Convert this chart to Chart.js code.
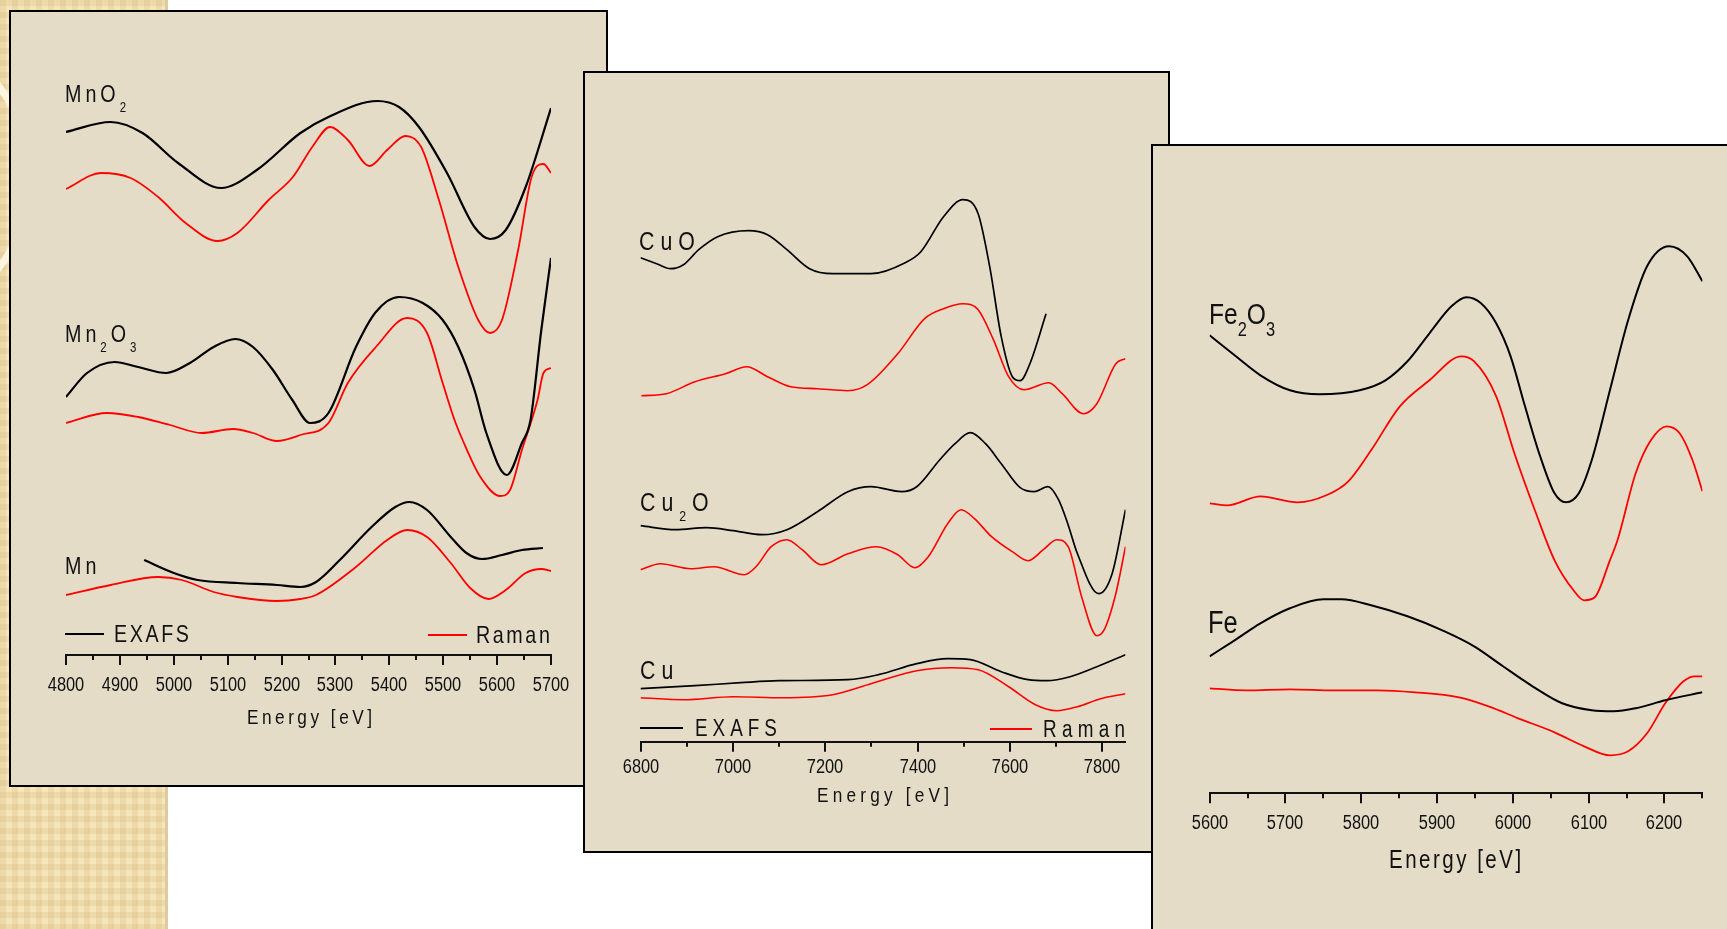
<!DOCTYPE html>
<html>
<head>
<meta charset="utf-8">
<script src="https://cdn.jsdelivr.net/npm/chart.js@4/dist/chart.umd.min.js"></script>
<style>
html, body { margin: 0; padding: 0; }
body { width: 1727px; height: 929px; overflow: hidden; background: #fff; position: relative;
  font-family: "Liberation Sans", Arial, sans-serif; color: #111; }
#deco { position: absolute; left: 0; top: 0; width: 165px; height: 929px;
  background-color: #f6e5b9;
  background-image: linear-gradient(90deg, rgba(205,175,115,.22) 50%, transparent 50%),
                    linear-gradient(rgba(205,175,115,.22) 50%, transparent 50%);
  background-size: 12px 12px; border-right: 3px solid #dccb9f; overflow: hidden; }
#deco .swirl { position: absolute; left: -300px; top: 20px; width: 320px; height: 300px;
  border-radius: 50%; border: 7px solid #fbf4de; }
.panel { position: absolute; box-sizing: border-box; border: 2px solid #000; background: #e4dcc7; overflow: hidden; }
.panel canvas { position: absolute; left: 0; top: 0; }
/* the original uses a narrow sans; squeeze Liberation Sans to Arial Narrow widths */
.lbl { position: absolute; line-height: 1; white-space: nowrap; transform: scaleX(0.82); transform-origin: 0 0; }
.key { position: absolute; height: 2px; }
</style>
</head>
<body>
<div id="deco"><div class="swirl"></div></div>

<script>
// ---- data: energy [eV], intensity (a.u., curves stacked with offsets) ----

// Mn panel
const mno2Exafs = [[4800,52.3],[4883,53.3],[4942,52.2],[5008,49.2],[5088,46.7],[5154,48.5],[5235,52.2],[5287,53.8],[5378,55.4],[5418,54.8],[5455,52.8],[5507,48.2],[5558,42.8],[5587,41.6],[5616,42.5],[5653,46.8],[5700,54.7]];
const mno2Raman = [[4800,46.6],[4865,48.2],[4920,47.7],[4971,45.8],[5022,43.2],[5081,41.4],[5118,42.2],[5176,45.5],[5221,47.8],[5257,50.8],[5290,52.8],[5323,51.5],[5363,48.9],[5396,50.5],[5430,51.9],[5459,50.8],[5492,45.5],[5528,38.8],[5565,33.5],[5587,32.2],[5609,33.5],[5639,40.5],[5664,47.8],[5686,49.1],[5700,48.2]];
const mn2o3Exafs = [[4800,25.8],[4839,28.2],[4890,29.3],[4934,28.8],[4986,28.2],[5030,29.2],[5074,30.8],[5114,31.6],[5147,30.8],[5184,28.5],[5220,25.5],[5253,23.2],[5287,24.2],[5338,30.8],[5375,34.3],[5418,35.8],[5462,35.2],[5499,33.5],[5528,30.8],[5558,26.5],[5580,22.2],[5618,18.0],[5646,21.2],[5662,23.5],[5682,32.5],[5700,39.7]];
const mn2o3Raman = [[4800,23.2],[4876,24.2],[4934,23.8],[4993,23.0],[5052,22.2],[5110,22.6],[5147,22.2],[5191,21.4],[5235,22.0],[5287,23.2],[5323,27.2],[5375,30.8],[5433,33.7],[5470,32.2],[5499,27.2],[5521,23.5],[5536,21.5],[5569,17.8],[5606,15.9],[5624,16.5],[5646,20.5],[5675,25.5],[5686,28.2],[5700,28.7]];
const mnExafs = [[4945,9.5],[5000,8.2],[5044,7.5],[5118,7.2],[5191,7.0],[5235,6.8],[5264,7.3],[5308,9.5],[5367,12.8],[5411,14.8],[5437,15.3],[5470,14.5],[5514,11.8],[5543,10.2],[5572,9.6],[5609,10.0],[5646,10.5],[5685,10.7]];
const mnRaman = [[4800,6.0],[4883,7.0],[4971,7.8],[5015,7.5],[5074,6.3],[5118,5.8],[5191,5.4],[5235,5.6],[5264,6.0],[5338,8.8],[5396,11.5],[5433,12.5],[5470,11.8],[5514,9.2],[5550,6.7],[5584,5.6],[5616,6.5],[5653,8.2],[5682,8.6],[5700,8.4]];

// Cu panel
const cuoExafs = [[6800,48.4],[6835,47.8],[6865,47.3],[6893,47.7],[6926,49.2],[6967,50.5],[7034,51.1],[7075,50.7],[7117,49.2],[7166,47.3],[7216,46.8],[7299,46.8],[7373,47.9],[7407,49.0],[7456,52.5],[7498,54.2],[7531,52.8],[7556,47.5],[7581,40.5],[7605,36.5],[7622,36.1],[7643,37.8],[7678,42.8]];
const cuoRaman = [[6802,34.6],[6856,34.8],[6918,36.0],[6984,36.8],[7030,37.5],[7075,36.5],[7125,35.5],[7183,35.3],[7249,35.1],[7291,35.7],[7357,38.8],[7415,42.3],[7456,43.3],[7498,43.8],[7531,43.2],[7564,40.2],[7597,36.5],[7630,35.2],[7684,35.9],[7713,34.8],[7759,32.8],[7788,33.8],[7829,37.8],[7850,38.3]];
const cu2oExafs = [[6800,21.6],[6876,21.2],[6943,21.4],[7001,21.1],[7063,20.7],[7117,21.2],[7183,23.0],[7249,25.0],[7299,25.5],[7365,25.0],[7398,25.5],[7448,28.2],[7481,29.8],[7514,30.9],[7547,29.8],[7581,27.8],[7622,25.4],[7652,25.0],[7682,25.5],[7705,24.2],[7725,21.8],[7746,18.8],[7792,14.8],[7821,16.8],[7850,23.2]];
const cu2oRaman = [[6800,17.2],[6843,17.8],[6909,17.3],[6959,17.5],[7025,16.7],[7050,17.5],[7083,19.5],[7117,20.2],[7150,19.2],[7191,17.7],[7249,18.8],[7311,19.5],[7357,18.7],[7394,17.4],[7423,18.5],[7465,21.8],[7494,23.2],[7523,22.3],[7560,20.5],[7605,19.0],[7639,18.1],[7672,19.2],[7701,20.2],[7726,19.5],[7755,14.5],[7788,10.6],[7804,11.2],[7829,14.8],[7850,19.5]];
const cuExafs = [[6800,5.3],[6918,5.6],[7017,5.9],[7100,6.1],[7249,6.2],[7315,6.7],[7398,7.8],[7465,8.3],[7514,8.2],[7581,7.0],[7639,6.2],[7680,6.1],[7730,6.5],[7788,7.5],[7850,8.7]];
const cuRaman = [[6800,4.4],[6893,4.2],[7001,4.5],[7108,4.4],[7216,4.7],[7299,5.8],[7398,7.1],[7473,7.4],[7531,7.2],[7597,5.5],[7655,3.7],[7701,3.1],[7746,3.5],[7796,4.3],[7850,4.8]];

// Fe panel
const fe2o3Exafs = [[5600,45.8],[5633,43.8],[5667,41.8],[5706,40.3],[5745,39.9],[5798,40.3],[5832,41.3],[5861,43.2],[5890,46.0],[5919,48.7],[5939,49.6],[5958,49.0],[5978,47.0],[5997,43.7],[6016,38.7],[6036,33.7],[6055,30.0],[6070,29.1],[6087,30.0],[6104,33.3],[6128,40.3],[6152,47.3],[6177,52.7],[6206,54.7],[6230,53.7],[6250,51.2]];
const fe2o3Raman = [[5600,29.0],[5623,28.8],[5667,29.7],[5716,29.1],[5754,29.8],[5783,31.2],[5813,34.3],[5851,38.7],[5890,41.3],[5932,43.7],[5949,43.2],[5978,39.7],[6002,34.0],[6031,27.9],[6055,23.3],[6080,20.3],[6094,19.3],[6108,19.6],[6128,23.3],[6138,25.3],[6162,32.0],[6182,35.3],[6203,36.7],[6220,36.0],[6237,33.3],[6250,30.2]];
const feExafs = [[5600,13.7],[5633,15.3],[5667,17.0],[5706,18.5],[5750,19.4],[5774,19.4],[5813,18.8],[5861,17.7],[5910,16.2],[5949,14.7],[5987,12.7],[6026,10.7],[6065,9.0],[6104,8.3],[6133,8.2],[6162,8.5],[6201,9.3],[6250,10.1]];
const feRaman = [[5600,10.5],[5648,10.3],[5706,10.4],[5764,10.3],[5822,10.3],[5871,10.1],[5929,9.6],[5968,8.7],[6007,7.5],[6055,6.1],[6094,4.7],[6128,3.8],[6152,4.2],[6177,6.0],[6201,9.0],[6225,11.2],[6240,11.7],[6250,11.7]];

const NARROW = 0.82;

// tick marks (long on labelled ticks) and narrow tick labels under the x axis
const energyAxis = {
  id: 'energyAxis',
  afterDraw(chart, args, opts) {
    const sc = chart.scales.x, ctx = chart.ctx, y = chart.chartArea.bottom;
    ctx.save();
    ctx.strokeStyle = '#111';
    ctx.fillStyle = '#111';
    ctx.lineWidth = 2;
    ctx.font = '20px "Liberation Sans", Arial, sans-serif';
    ctx.textAlign = 'center';
    ctx.textBaseline = 'middle';
    sc.ticks.forEach(t => {
      const x = Math.round(sc.getPixelForValue(t.value));
      const major = t.value % opts.major === 0;
      ctx.beginPath(); ctx.moveTo(x, y); ctx.lineTo(x, y + (major ? 10 : 5)); ctx.stroke();
      if (major) {
        ctx.save();
        ctx.translate(x, y + opts.labelDy);
        ctx.scale(NARROW, 1);
        ctx.fillText(String(t.value), 0, 0);
        ctx.restore();
      }
    });
    ctx.restore();
  }
};

function line(points, color, width) {
  return {
    data: points.map(p => ({ x: p[0], y: p[1] })),
    borderColor: color, borderWidth: width, pointRadius: 0,
    cubicInterpolationMode: 'monotone', fill: false
  };
}

function makePanel(p) {
  const el = document.createElement('div');
  el.className = 'panel';
  Object.assign(el.style, { left: p.left + 'px', top: p.top + 'px', width: p.w + 'px', height: p.h + 'px', zIndex: p.z });
  document.body.appendChild(el);
  const cv = document.createElement('canvas');
  cv.width = p.w - 4; cv.height = p.h - 4;
  el.appendChild(cv);
  new Chart(cv, {
    type: 'line',
    data: { datasets: p.series },
    plugins: [energyAxis],
    options: {
      responsive: false, animation: false, devicePixelRatio: 1,
      layout: { autoPadding: false, padding: p.pad },
      plugins: { legend: { display: false }, tooltip: { enabled: false },
        energyAxis: { major: p.major, labelDy: p.labelDy } },
      scales: {
        x: {
          type: 'linear', min: p.xmin, max: p.xmax,
          grid: { display: false, drawTicks: false },
          border: { display: true, color: '#111', width: 2 },
          afterFit: s => { s.height = 60; },
          ticks: { display: false, stepSize: p.minor, includeBounds: false, autoSkip: false }
        },
        y: { display: false, min: 0, max: 60 }
      }
    }
  });
  // text and legend keys, given in page coordinates (cap top of text)
  const ox = p.left + 2, oy = p.top + 2;
  (p.texts || []).forEach(t => {
    const d = document.createElement('div');
    d.className = 'lbl';
    d.innerHTML = t.html;
    Object.assign(d.style, { left: (t.x - ox) + 'px', top: (t.y - 0.13 * t.size - oy) + 'px',
      fontSize: t.size + 'px', letterSpacing: ((t.ls || 0) / NARROW) + 'px' });
    el.appendChild(d);
  });
  (p.keys || []).forEach(k => {
    const d = document.createElement('div');
    d.className = 'key';
    Object.assign(d.style, { left: (k.x - ox) + 'px', top: (k.y - 1 - oy) + 'px', width: k.w + 'px', background: k.color });
    el.appendChild(d);
  });
}

const sub = (n, size, drop) => `<span style="font-size:${size}px;vertical-align:-${drop}px">${n}</span>`;

makePanel({
  left: 9, top: 10, w: 599, h: 777, z: 1,
  xmin: 4800, xmax: 5700, minor: 50, major: 100, labelDy: 30,
  pad: { left: 55, right: 55, top: 43, bottom: 70 },
  series: [
    line(mno2Exafs, '#000', 2.2), line(mno2Raman, '#ff0000', 1.8),
    line(mn2o3Exafs, '#000', 2.2), line(mn2o3Raman, '#ff0000', 1.8),
    line(mnExafs, '#000', 2.2), line(mnRaman, '#ff0000', 1.8)
  ],
  texts: [
    { html: 'MnO' + sub(2, 14, 10), x: 65, y: 85, size: 24, ls: 4 },
    { html: 'Mn' + sub(2, 14, 10) + 'O' + sub(3, 14, 10), x: 65, y: 325, size: 24, ls: 4 },
    { html: 'Mn', x: 65, y: 557, size: 24, ls: 4 },
    { html: 'EXAFS', x: 114, y: 625, size: 24, ls: 2.6 },
    { html: 'Raman', x: 476, y: 626.5, size: 24, ls: 2.6 },
    { html: 'Energy [eV]', x: 247, y: 709, size: 21, ls: 3.5 }
  ],
  keys: [{ x: 65, y: 634, w: 39, color: '#000' }, { x: 428, y: 635, w: 39, color: '#ff0000' }]
});

makePanel({
  left: 583, top: 71, w: 587, h: 782, z: 2,
  xmin: 6800, xmax: 7850, minor: 100, major: 200, labelDy: 26,
  pad: { left: 55.5, right: 42.5, top: 68.7, bottom: 49.3 },
  series: [
    line(cuoExafs, '#000', 1.7), line(cuoRaman, '#ff0000', 1.6),
    line(cu2oExafs, '#000', 1.7), line(cu2oRaman, '#ff0000', 1.6),
    line(cuExafs, '#000', 1.7), line(cuRaman, '#ff0000', 1.6)
  ],
  texts: [
    { html: 'CuO', x: 639, y: 231, size: 26, ls: 6 },
    { html: 'Cu' + sub(2, 15, 10) + 'O', x: 640, y: 492, size: 26, ls: 6 },
    { html: 'Cu', x: 640, y: 660, size: 26, ls: 6 },
    { html: 'EXAFS', x: 695, y: 720, size: 23, ls: 5 },
    { html: 'Raman', x: 1043, y: 721, size: 23, ls: 5.3 },
    { html: 'Energy [eV]', x: 817, y: 787, size: 21, ls: 4.2 }
  ],
  keys: [{ x: 640, y: 728, w: 43, color: '#000' }, { x: 990, y: 729, w: 42, color: '#ff0000' }]
});

makePanel({
  left: 1151, top: 144, w: 611, h: 804, z: 3,
  xmin: 5600, xmax: 6250, minor: 50, major: 100, labelDy: 30,
  pad: { left: 56.6, right: 57.6, top: 47.3, bottom: 92.7 },
  series: [
    line(fe2o3Exafs, '#000', 2), line(fe2o3Raman, '#ff0000', 1.8),
    line(feExafs, '#000', 2), line(feRaman, '#ff0000', 1.8)
  ],
  texts: [
    { html: 'Fe' + sub(2, 20, 12) + 'O' + sub(3, 20, 12), x: 1209, y: 303, size: 30 },
    { html: 'Fe', x: 1208, y: 611, size: 31 },
    { html: 'Energy [eV]', x: 1389, y: 850, size: 25, ls: 2.5 }
  ]
});
</script>
</body>
</html>
